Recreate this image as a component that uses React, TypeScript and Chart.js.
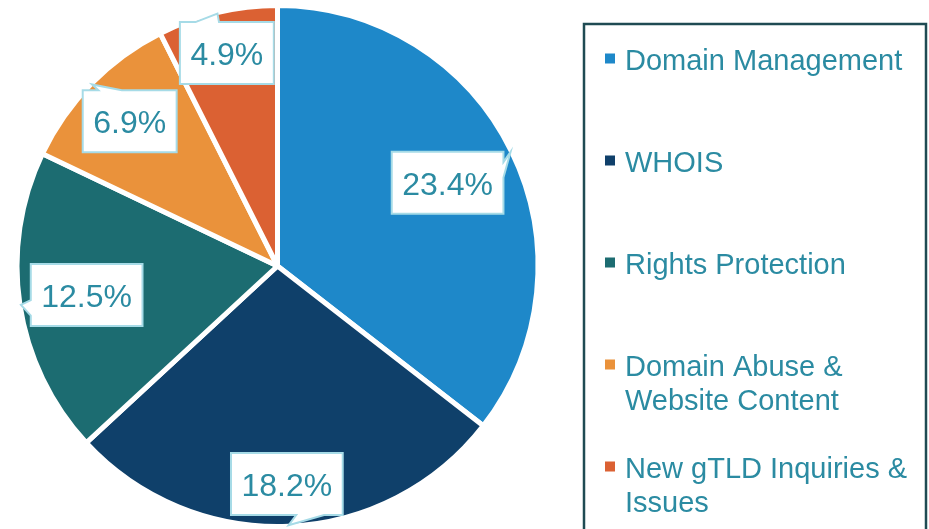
import React, { useEffect, useRef } from "react";
import { Chart, registerables } from "chart.js";

Chart.register(...registerables);

const categories = [
  "Domain Management",
  "WHOIS",
  "Rights Protection",
  "Domain Abuse & Website Content",
  "New gTLD Inquiries & Issues",
];
const shares = [23.4, 18.2, 12.5, 6.9, 4.9];
const sliceColors = ["#1E88C9", "#0F406A", "#1C6C71", "#EA923B", "#DB6133"];

// layout: radial position of each value label (fraction of pie radius)
const labelRadius = [0.727, 0.838, 0.741, 0.794, 0.84];

const TEXT_COLOR = "#2B8BA2";
const FONT = '"Liberation Sans", Arial, Helvetica, sans-serif';

function calloutPath(
  ctx: CanvasRenderingContext2D,
  l: number,
  t: number,
  w: number,
  h: number,
  tx: number,
  ty: number
) {
  const r = l + w;
  const b = t + h;
  const hc = l + w / 2;
  const vc = t + h / 2;
  const dx = tx - hc;
  const dy = ty - vc;
  const dq = (dx * h) / w;
  const dz = Math.abs(dy) - Math.abs(dq);
  ctx.beginPath();
  ctx.moveTo(l, t);
  if (dz > 0 && dy < 0) {
    const x1 = l + (w * (dx > 0 ? 7 : 2)) / 12;
    const x2 = l + (w * (dx > 0 ? 10 : 5)) / 12;
    ctx.lineTo(x1, t);
    ctx.lineTo(tx, ty);
    ctx.lineTo(x2, t);
  }
  ctx.lineTo(r, t);
  if (dz <= 0 && dx > 0) {
    const y1 = t + (h * (dy > 0 ? 7 : 2)) / 12;
    const y2 = t + (h * (dy > 0 ? 10 : 5)) / 12;
    ctx.lineTo(r, y1);
    ctx.lineTo(tx, ty);
    ctx.lineTo(r, y2);
  }
  ctx.lineTo(r, b);
  if (dz > 0 && dy >= 0) {
    const x1 = l + (w * (dx > 0 ? 7 : 2)) / 12;
    const x2 = l + (w * (dx > 0 ? 10 : 5)) / 12;
    ctx.lineTo(x2, b);
    ctx.lineTo(tx, ty);
    ctx.lineTo(x1, b);
  }
  ctx.lineTo(l, b);
  if (dz <= 0 && dx <= 0) {
    const y1 = t + (h * (dy > 0 ? 7 : 2)) / 12;
    const y2 = t + (h * (dy > 0 ? 10 : 5)) / 12;
    ctx.lineTo(l, y2);
    ctx.lineTo(tx, ty);
    ctx.lineTo(l, y1);
  }
  ctx.closePath();
}

const calloutPlugin = {
  id: "calloutLabels",
  afterDatasetsDraw(chart: any) {
    const ctx: CanvasRenderingContext2D = chart.ctx;
    const meta = chart.getDatasetMeta(0);
    ctx.save();
    ctx.font = `32px ${FONT}`;
    meta.data.forEach((arc: any, i: number) => {
      const { x, y, startAngle, endAngle, outerRadius } = arc.getProps(
        ["x", "y", "startAngle", "endAngle", "outerRadius"],
        true
      );
      const mid = (startAngle + endAngle) / 2;
      const cx = x + Math.cos(mid) * outerRadius * labelRadius[i];
      const cy = y + Math.sin(mid) * outerRadius * labelRadius[i];
      const tipx = x + Math.cos(mid) * (outerRadius - 1);
      const tipy = y + Math.sin(mid) * (outerRadius - 1);
      const text = shares[i].toFixed(1) + "%";
      const tw = ctx.measureText(text).width;
      const w = tw + 21;
      const h = 62;
      const l = cx - w / 2;
      const t = cy - h / 2;
      calloutPath(ctx, l, t, w, h, tipx, tipy);
      ctx.fillStyle = "#FFFFFF";
      ctx.fill();
      ctx.strokeStyle = "#A6DBE7";
      ctx.lineWidth = 2;
      ctx.lineJoin = "miter";
      ctx.stroke();
      ctx.fillStyle = TEXT_COLOR;
      ctx.textAlign = "center";
      ctx.textBaseline = "alphabetic";
      ctx.fillText(text, cx, cy + 12);
    });
    ctx.restore();
  },
};

const legendPlugin = {
  id: "boxLegend",
  afterDraw(chart: any) {
    const ctx: CanvasRenderingContext2D = chart.ctx;
    ctx.save();
    ctx.strokeStyle = "#1F4B53";
    ctx.lineWidth = 2.5;
    ctx.strokeRect(584, 24, 342, 530);
    ctx.font = `29px ${FONT}`;
    ctx.textAlign = "left";
    ctx.textBaseline = "alphabetic";
    const maxW = 295;
    categories.forEach((cat, i) => {
      const base = 69.5 + i * 102;
      ctx.fillStyle = sliceColors[i];
      ctx.fillRect(605, base - 16, 10, 10);
      const words = cat.split(" ");
      const lines: string[] = [];
      let cur = "";
      words.forEach((wd) => {
        const test = cur ? cur + " " + wd : wd;
        if (ctx.measureText(test).width > maxW && cur) {
          lines.push(cur);
          cur = wd;
        } else {
          cur = test;
        }
      });
      if (cur) lines.push(cur);
      ctx.fillStyle = TEXT_COLOR;
      lines.forEach((ln, j) => ctx.fillText(ln, 625, base + j * 34));
    });
    ctx.restore();
  },
};

export default function App() {
  const ref = useRef<HTMLCanvasElement>(null);
  useEffect(() => {
    if (!ref.current) return;
    const chart = new Chart(ref.current, {
      type: "pie",
      data: {
        labels: categories,
        datasets: [
          {
            data: shares,
            backgroundColor: sliceColors,
            borderColor: "#FFFFFF",
            borderWidth: 5,
            hoverBorderWidth: 5,
            hoverOffset: 0,
          },
        ],
      },
      options: {
        responsive: false,
        animation: false,
        events: [],
        layout: { padding: { left: 14, top: 3, right: 388, bottom: 0 } },
        plugins: {
          legend: { display: false },
          tooltip: { enabled: false },
        },
      },
      plugins: [calloutPlugin, legendPlugin],
    });
    return () => chart.destroy();
  }, []);
  return (
    <div style={{ position: "fixed", left: 0, top: 0, width: 929, height: 529, background: "#fff" }}>
      <canvas ref={ref} width={929} height={529} />
    </div>
  );
}
